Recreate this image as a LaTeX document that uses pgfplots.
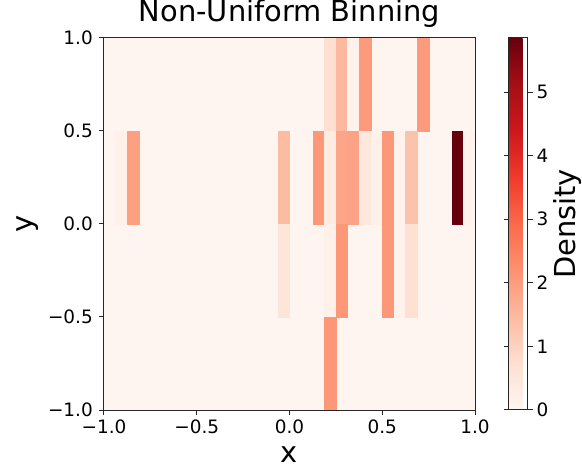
\documentclass[border=0pt]{standalone}
\usepackage{fontspec}
\setmainfont{DejaVu Sans}
\usepackage{pgfplots}
\pgfplotsset{compat=1.18}
\usepgfplotslibrary{patchplots}

% cells of the 2D histogram: four corners per bin, c = density
\pgfplotstableread{
x y c
-1 -1 0
1 -1 0
1 1 0
-1 1 0
0.1875 0.5 0.75
0.25 0.5 0.75
0.25 1 0.75
0.1875 1 0.75
0.25 0.5 1.5
0.3125 0.5 1.5
0.3125 1 1.5
0.25 1 1.5
0.3125 0.5 0.1
0.375 0.5 0.1
0.375 1 0.1
0.3125 1 0.1
0.375 0.5 2.05
0.4375 0.5 2.05
0.4375 1 2.05
0.375 1 2.05
0.6875 0.5 2.05
0.75 0.5 2.05
0.75 1 2.05
0.6875 1 2.05
-0.9375 0 0.15
-0.875 0 0.15
-0.875 0.5 0.15
-0.9375 0.5 0.15
-0.875 0 1.95
-0.8125 0 1.95
-0.8125 0.5 1.95
-0.875 0.5 1.95
-0.0625 0 1.45
0 0 1.45
0 0.5 1.45
-0.0625 0.5 1.45
0.125 0 2.1
0.1875 0 2.1
0.1875 0.5 2.1
0.125 0.5 2.1
0.1875 0 0.35
0.25 0 0.35
0.25 0.5 0.35
0.1875 0.5 0.35
0.25 0 1.85
0.3125 0 1.85
0.3125 0.5 1.85
0.25 0.5 1.85
0.3125 0 1.9
0.375 0 1.9
0.375 0.5 1.9
0.3125 0.5 1.9
0.375 0 0.45
0.4375 0 0.45
0.4375 0.5 0.45
0.375 0.5 0.45
0.4375 0 0.15
0.5 0 0.15
0.5 0.5 0.15
0.4375 0.5 0.15
0.5 0 2.1
0.5625 0 2.1
0.5625 0.5 2.1
0.5 0.5 2.1
0.5625 0 0.1
0.625 0 0.1
0.625 0.5 0.1
0.5625 0.5 0.1
0.625 0 1.3
0.6875 0 1.3
0.6875 0.5 1.3
0.625 0.5 1.3
0.875 0 5.85
0.9375 0 5.85
0.9375 0.5 5.85
0.875 0.5 5.85
0.9375 0 0.1
1 0 0.1
1 0.5 0.1
0.9375 0.5 0.1
-0.0625 -0.5 0.55
0 -0.5 0.55
0 0 0.55
-0.0625 0 0.55
0.1875 -0.5 0.15
0.25 -0.5 0.15
0.25 0 0.15
0.1875 0 0.15
0.25 -0.5 2.1
0.3125 -0.5 2.1
0.3125 0 2.1
0.25 0 2.1
0.5 -0.5 2.1
0.5625 -0.5 2.1
0.5625 0 2.1
0.5 0 2.1
0.5625 -0.5 0.1
0.625 -0.5 0.1
0.625 0 0.1
0.5625 0 0.1
0.625 -0.5 0.7
0.6875 -0.5 0.7
0.6875 0 0.7
0.625 0 0.7
0.1875 -1 2.1
0.25 -1 2.1
0.25 -0.5 2.1
0.1875 -0.5 2.1
}\cells

\begin{document}
\begin{tikzpicture}
\useasboundingbox (-104bp,-57bp) rectangle (478bp,410bp);
\begin{axis}[
    at={(0,0)}, anchor=south west,
    scale only axis,
    width=371bp, height=372bp,
    xmin=-1, xmax=1, ymin=-1, ymax=1,
    xtick={-1,-0.5,0,0.5,1},
    xticklabels={−1.0,−0.5,0.0,0.5,1.0},
    ytick={-1,-0.5,0,0.5,1},
    yticklabels={−1.0,−0.5,0.0,0.5,1.0},
    xtick pos=left, ytick pos=left,
    tick align=outside,
    major tick length=5bp,
    axis on top,
    axis line style={line width=1bp, black!85},
    tick style={line width=1bp, black!85},
    ticklabel style={font=\fontsize{18.5}{20}\selectfont, inner sep=0pt},
    xticklabel style={yshift=-5bp},
    yticklabel style={xshift=-6bp},
    title={Non-Uniform Binning},
    title style={font=\fontsize{29}{32}\selectfont, at={(axis description cs:0.5,1.0296)}, anchor=base, inner sep=0pt},
    xlabel={x},
    xlabel style={font=\fontsize{29}{32}\selectfont, at={(axis description cs:0.5,-0.1398)}, anchor=base, inner sep=0pt},
    ylabel={y},
    ylabel style={font=\fontsize{29}{32}\selectfont, at={(axis description cs:-0.1914,0.5)}, anchor=base, inner sep=0pt},
    colormap={reds}{rgb255=(255,245,240) rgb255=(254,224,210) rgb255=(252,187,161)
        rgb255=(252,146,114) rgb255=(251,106,74) rgb255=(239,59,44)
        rgb255=(203,24,29) rgb255=(165,15,21) rgb255=(103,0,13)},
    point meta min=0, point meta max=5.85,
    colorbar,
    colorbar style={
        at={(parent axis.north east)}, anchor=north west, xshift=25bp,
        scale only axis,
        width=19bp, height=372bp,
        ytick={0,1,2,3,4,5},
        yticklabels={0,1,2,3,4,5},
        yticklabel pos=right,
        tick align=outside,
        major tick length=5bp,
        axis line style={line width=1bp, black!85},
        tick style={line width=1bp, black!85},
        ticklabel style={font=\fontsize{18.5}{20}\selectfont, inner sep=0pt},
        yticklabel style={xshift=4bp},
        ylabel={Density},
        ylabel style={font=\fontsize{29}{32}\selectfont, at={(axis description cs:3.526,0.5)}, anchor=base, inner sep=0pt},
    },
]
\addplot[patch, patch type=rectangle, shader=faceted, faceted color=mapped color, line width=0.2pt, point meta=\thisrow{c}] table {\cells};
\end{axis}
\end{tikzpicture}
\end{document}
